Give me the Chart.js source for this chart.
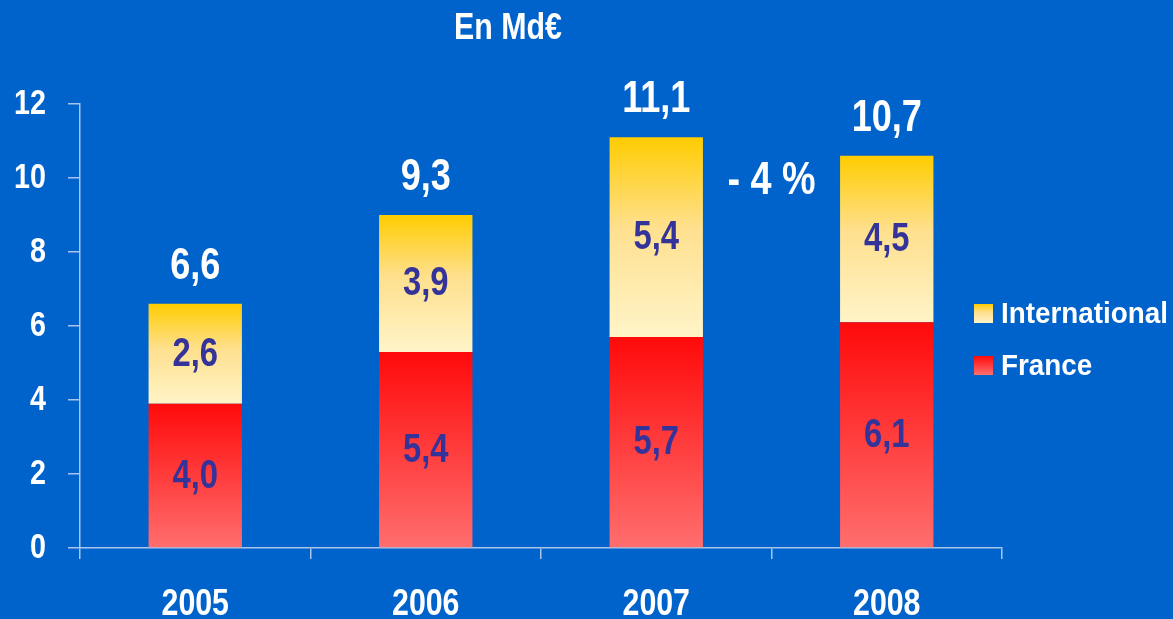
<!DOCTYPE html>
<html>
<head>
<meta charset="utf-8">
<script src="https://cdn.jsdelivr.net/npm/chart.js@4/dist/chart.umd.min.js"></script>
<style>
html,body{margin:0;padding:0;background:#0062CB;}
#wrap{width:1173px;height:619px;position:relative;}
</style>
</head>
<body>
<div id="wrap"><canvas id="c" width="1173" height="619"></canvas></div>
<script>
// ---- data ----
const categories = ['2005', '2006', '2007', '2008'];
const seriesNames = ['France', 'International'];
const franceValues = [3.9, 5.3, 5.7, 6.1];
const internationalValues = [2.7, 3.7, 5.4, 4.5];
const franceLabels = ['4,0', '5,4', '5,7', '6,1'];
const internationalLabels = ['2,6', '3,9', '5,4', '4,5'];
const totalLabels = ['6,6', '9,3', '11,1', '10,7'];
const yTicks = [0, 2, 4, 6, 8, 10, 12];
const titleText = 'En Md€';
const changeText = '- 4 %';
const changePos = { x: 2.5, y: 9.9 };

const FONT = "'Liberation Sans', Arial, sans-serif";
let narrow = 0.82; // horizontal compression to mimic a narrow face
const AXIS = '#A9C5EA';
const DARK = '#333399';

// compress canvas text horizontally (Arial Narrow look)
const canvas = document.getElementById('c');
const c2d = canvas.getContext('2d');
const origFillText = c2d.fillText.bind(c2d);
c2d.fillText = function (text, x, y, maxWidth) {
  this.save();
  this.translate(x, y);
  this.scale(narrow, 1);
  if (maxWidth !== undefined) origFillText(text, 0, 0, maxWidth / narrow);
  else origFillText(text, 0, 0);
  this.restore();
};

function grad(ctx, y0, y1, stops) {
  const g = ctx.createLinearGradient(0, y0, 0, y1);
  stops.forEach(s => g.addColorStop(s[0], s[1]));
  return g;
}
const franceStops = [[0, '#FF0A0A'], [0.5, '#FF3C3C'], [1, '#FF6E6E']];
const intlStops = [[0, '#FFCC00'], [0.45, '#FEE08E'], [1, '#FFF4C8']];

function segFill(stops, base) {
  return function (context) {
    const chart = context.chart;
    const y = chart.scales && chart.scales.y;
    if (!y || context.type !== 'data' || !chart.chartArea) return stops[0][1];
    const i = context.dataIndex;
    const start = base ? base[i] : 0;
    const end = start + context.dataset.data[i];
    return grad(chart.ctx, y.getPixelForValue(end), y.getPixelForValue(start), stops);
  };
}

const labelsPlugin = {
  id: 'labels',
  afterDatasetsDraw(chart) {
    const ctx = chart.ctx;
    const x = chart.scales.x, y = chart.scales.y;
    ctx.save();
    ctx.textAlign = 'center';
    ctx.textBaseline = 'middle';
    const segLabels = [franceLabels, internationalLabels];
    chart.data.datasets.forEach((ds, di) => {
      const meta = chart.getDatasetMeta(di);
      meta.data.forEach((el, i) => {
        const cy = (el.y + el.base) / 2;
        ctx.font = 'bold 40px ' + FONT;
        ctx.fillStyle = DARK;
        ctx.fillText(segLabels[di][i], el.x, cy + 1);
      });
    });
    const top = chart.getDatasetMeta(1);
    top.data.forEach((el, i) => {
      ctx.font = 'bold 44px ' + FONT;
      ctx.fillStyle = '#FFFFFF';
      ctx.fillText(totalLabels[i], el.x, el.y - 37);
    });
    ctx.font = 'bold 46px ' + FONT;
    ctx.fillText(changeText, x.getPixelForValue(changePos.x), y.getPixelForValue(changePos.y));
    ctx.font = 'bold 37px ' + FONT;
    ctx.fillText(titleText, 508, 29);
    const items = [
      { name: seriesNames[1], stops: intlStops },
      { name: seriesNames[0], stops: franceStops }
    ];
    narrow = 0.96;
    items.forEach((it, k) => {
      const by = 304 + k * 52;
      ctx.fillStyle = grad(ctx, by, by + 19, it.stops);
      ctx.fillRect(974, by, 19, 19);
      ctx.fillStyle = '#FFFFFF';
      ctx.font = 'bold 29px ' + FONT;
      ctx.textAlign = 'left';
      ctx.fillText(it.name, 1001, by + 11);
      ctx.textAlign = 'center';
    });
    narrow = 0.82;
    ctx.restore();
  }
};

new Chart(canvas, {
  type: 'bar',
  data: {
    labels: categories,
    datasets: [
      { label: seriesNames[0], data: franceValues, backgroundColor: segFill(franceStops, null), borderWidth: 0 },
      { label: seriesNames[1], data: internationalValues, backgroundColor: segFill(intlStops, franceValues), borderWidth: 0 }
    ]
  },
  options: {
    responsive: false,
    animation: false,
    events: [],
    layout: { padding: { top: 104, right: 171, left: 0, bottom: 0 } },
    datasets: { bar: { barPercentage: 0.81, categoryPercentage: 0.5 } },
    plugins: { legend: { display: false }, tooltip: { enabled: false }, title: { display: false } },
    scales: {
      x: {
        stacked: true,
        offset: true,
        grid: { offset: true, drawOnChartArea: false, drawTicks: true, tickLength: 11, color: AXIS, lineWidth: 1.5 },
        border: { color: AXIS, width: 1.5 },
        ticks: { color: '#FFFFFF', font: { family: FONT, size: 37, weight: 'bold' }, padding: 24 },
        afterFit(s) { s.height = 71; }
      },
      y: {
        stacked: true,
        min: 0, max: 12,
        afterBuildTicks(s) { s.ticks = yTicks.map(v => ({ value: v })); },
        grid: { drawOnChartArea: false, drawTicks: true, tickLength: 12, color: AXIS, lineWidth: 1.5 },
        border: { color: AXIS, width: 1.5 },
        ticks: { color: '#FFFFFF', font: { family: FONT, size: 35, weight: 'bold' }, padding: 22 },
        afterFit(s) { s.width = 80; }
      }
    }
  },
  plugins: [labelsPlugin]
});
</script>
</body>
</html>
